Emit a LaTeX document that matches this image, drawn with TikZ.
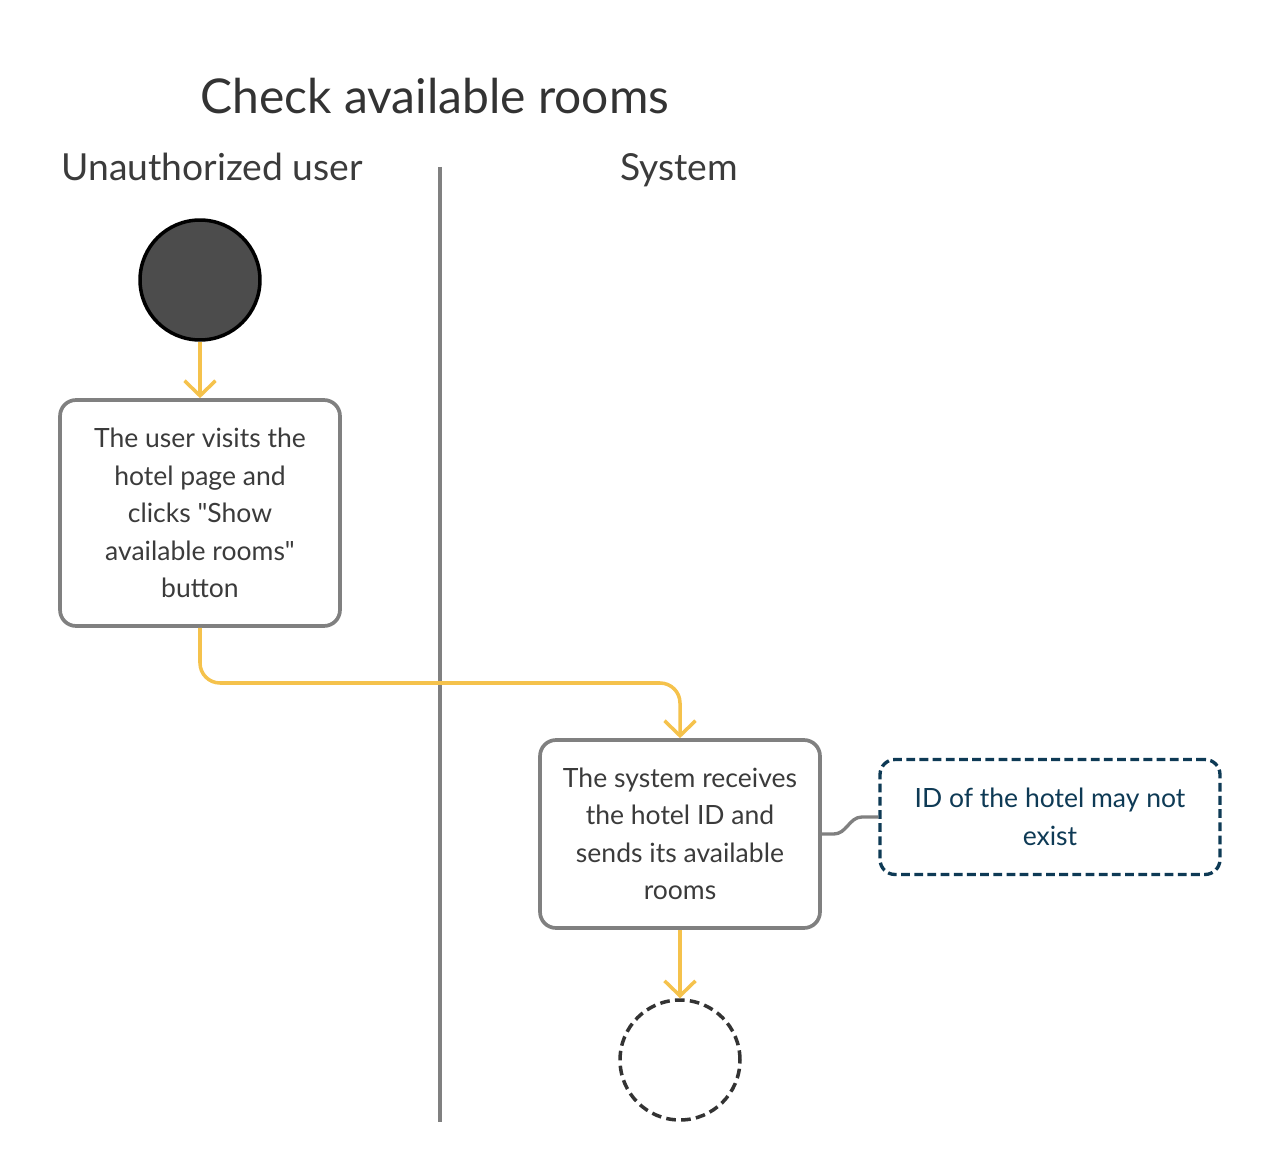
\documentclass[tikz,border=0pt]{standalone}
\usepackage{fontspec}
\setmainfont{Lato}[Ligatures=TeXOff]
\usepackage{xcolor}
\usetikzlibrary{arrows.meta}
\definecolor{flowyellow}{HTML}{F5C24C}
\definecolor{boxgray}{HTML}{808080}
\definecolor{textgray}{HTML}{3B3B3B}
\definecolor{notenavy}{HTML}{0E3A55}

\begin{document}
\begin{tikzpicture}[x=0.02cm,y=-0.02cm,
  activity/.style={draw=boxgray,line width=2.1pt,rounded corners=0.32cm,
    minimum width=5.6cm,align=center,text=textgray,
    font=\fontsize{15.1}{21.3}\selectfont},
  flow/.style={draw=flowyellow,line width=2pt,
    -{Straight Barb[length=0.3cm,width=0.62cm,line width=2pt]}},
  lane/.style={text=textgray,text height=0.72em,text depth=0.22em,
    font=\fontsize{21.2}{26}\selectfont}]
\useasboundingbox (0,0) rectangle (1261,1162);
% titles
\node[text=black!80,font=\fontsize{27.3}{32}\selectfont] (title) at (435,96) {Check available rooms};
\node[lane] (userlane) at (212,176) {Unauthorized user};
\node[lane] (syslane) at (679,176) {System};
\draw[boxgray,line width=2.2pt] (440,167) -- (440,1122);
% activities
\node[circle,draw=black,line width=2pt,fill=black!70,minimum size=2.4cm] (start) at (200,280) {};
\node[activity,minimum height=4.52cm] (visit) at (200,513)
  {The user visits the\\hotel page and\\clicks "Show\\available rooms"\\button};
\node[activity,minimum height=3.76cm] (receive) at (680,834)
  {The system receives\\the hotel ID and\\sends its available\\rooms};
\node[draw=notenavy,dash pattern=on 5pt off 2.5pt,line width=1.9pt,rounded corners=0.3cm,
  minimum width=6.8cm,minimum height=2.3cm,align=center,text=notenavy,
  font=\fontsize{15.1}{21.3}\selectfont] (note) at (1050,817)
  {ID of the hotel may not\\exist};
\node[circle,draw=black!80,dash pattern=on 5.5pt off 3pt,line width=2pt,minimum size=2.4cm] (final) at (680,1060) {};
% connectors
\draw[flow] (start) -- (visit);
\draw[flow,rounded corners=0.4cm] (visit.south) |- (680,683) -- (receive.north);
\draw[flow] (receive) -- (final);
\draw[boxgray,line width=1.9pt] (receive.east) -- ++(12,0) to[out=0,in=180] (note.west -| 862,0) -- (note.west);
\end{tikzpicture}
\end{document}
